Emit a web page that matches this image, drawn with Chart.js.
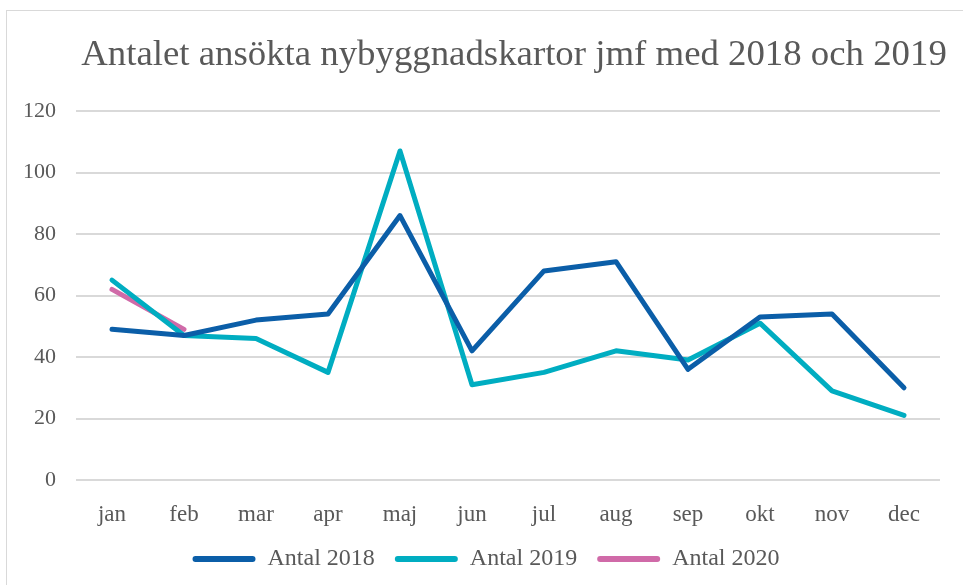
<!DOCTYPE html>
<html>
<head>
<meta charset="utf-8">
<script src="https://cdn.jsdelivr.net/npm/chart.js@4.4.1/dist/chart.umd.min.js"></script>
<style>
  html, body { margin: 0; padding: 0; background: #fff; overflow: hidden; }
  #wrap { position: relative; width: 963px; height: 585px; overflow: hidden; }
  #frame { position: absolute; left: 6px; top: 10px; width: 1100px; height: 1000px; border: 1.5px solid #d9d9d9; box-sizing: border-box; }
  canvas { position: absolute; left: 0; top: 0; }
</style>
</head>
<body>
<div id="wrap">
  <div id="frame"></div>
  <canvas id="c" width="963" height="585"></canvas>
</div>
<script>
const titleText = "Antalet ansökta nybyggnadskartor jmf med 2018 och 2019";
const months = ["jan", "feb", "mar", "apr", "maj", "jun", "jul", "aug", "sep", "okt", "nov", "dec"];
const antal2018 = [49, 47, 52, 54, 86, 42, 68, 71, 36, 53, 54, 30];
const antal2019 = [65, 47, 46, 35, 107, 31, 35, 42, 39, 51, 29, 21];
const antal2020 = [62, 49, null, null, null, null, null, null, null, null, null, null];
const seriesNames = ["Antal 2018", "Antal 2019", "Antal 2020"];
const seriesColors = ["#0b5ea8", "#00adc1", "#d06aa8"];
const yTicks = [0, 20, 40, 60, 80, 100, 120];

const FONT = "'Liberation Serif', 'Times New Roman', serif";
const TEXT = "#595959";

const titlePlugin = {
  id: 'customTitle',
  afterLayout(chart) {
    if (chart.legend) { chart.legend.left += 16; chart.legend.right += 16; }
  },
  afterDraw(chart) {
    const ctx = chart.ctx;
    ctx.save();
    ctx.font = "36.8px " + FONT;
    ctx.fillStyle = TEXT;
    ctx.textAlign = "center";
    ctx.textBaseline = "alphabetic";
    ctx.fillText(titleText, 514, 65);
    ctx.restore();
  }
};

const mkDs = (i, data) => ({
  label: seriesNames[i],
  data: data,
  borderColor: seriesColors[i],
  backgroundColor: seriesColors[i],
  borderWidth: 5,
  pointRadius: 0,
  pointHoverRadius: 0,
  tension: 0,
  fill: false,
  spanGaps: false,
  borderJoinStyle: 'round',
  borderCapStyle: 'round'
});

new Chart(document.getElementById('c'), {
  type: 'line',
  data: {
    labels: months,
    datasets: [mkDs(0, antal2018), mkDs(1, antal2019), mkDs(2, antal2020)]
  },
  options: {
    responsive: false,
    animation: false,
    devicePixelRatio: 1,
    layout: { padding: { left: 0, right: 23, top: 111, bottom: 4 } },
    plugins: {
      title: { display: false },
      tooltip: { enabled: false },
      legend: {
        display: true,
        position: 'bottom',
        labels: {
          font: { family: FONT, size: 24 },
          color: TEXT,
          boxWidth: 63,
          boxHeight: 6,
          padding: 20,
          generateLabels(chart) {
            return chart.data.datasets.map((ds, i) => ({
              text: ds.label,
              fillStyle: ds.borderColor,
              strokeStyle: ds.borderColor,
              lineWidth: 0,
              fontColor: TEXT,
              borderRadius: 3,
              datasetIndex: i,
              hidden: false
            }));
          },
          useBorderRadius: true
        }
      }
    },
    scales: {
      x: {
        offset: true,
        grid: { display: false, drawTicks: false },
        border: { display: false },
        ticks: { font: { family: FONT, size: 23 }, color: TEXT, padding: 21, maxRotation: 0 },
        afterFit(scale) { scale.height = 47; }
      },
      y: {
        min: 0, max: 120,
        afterBuildTicks(scale) { scale.ticks = yTicks.map(v => ({ value: v })); },
        grid: { color: '#d9d9d9', lineWidth: 2, drawTicks: false },
        border: { display: false },
        ticks: { font: { family: FONT, size: 22 }, color: TEXT, padding: 20 },
        afterFit(scale) { scale.width = 76; }
      }
    }
  },
  plugins: [titlePlugin]
});
</script>
</body>
</html>
